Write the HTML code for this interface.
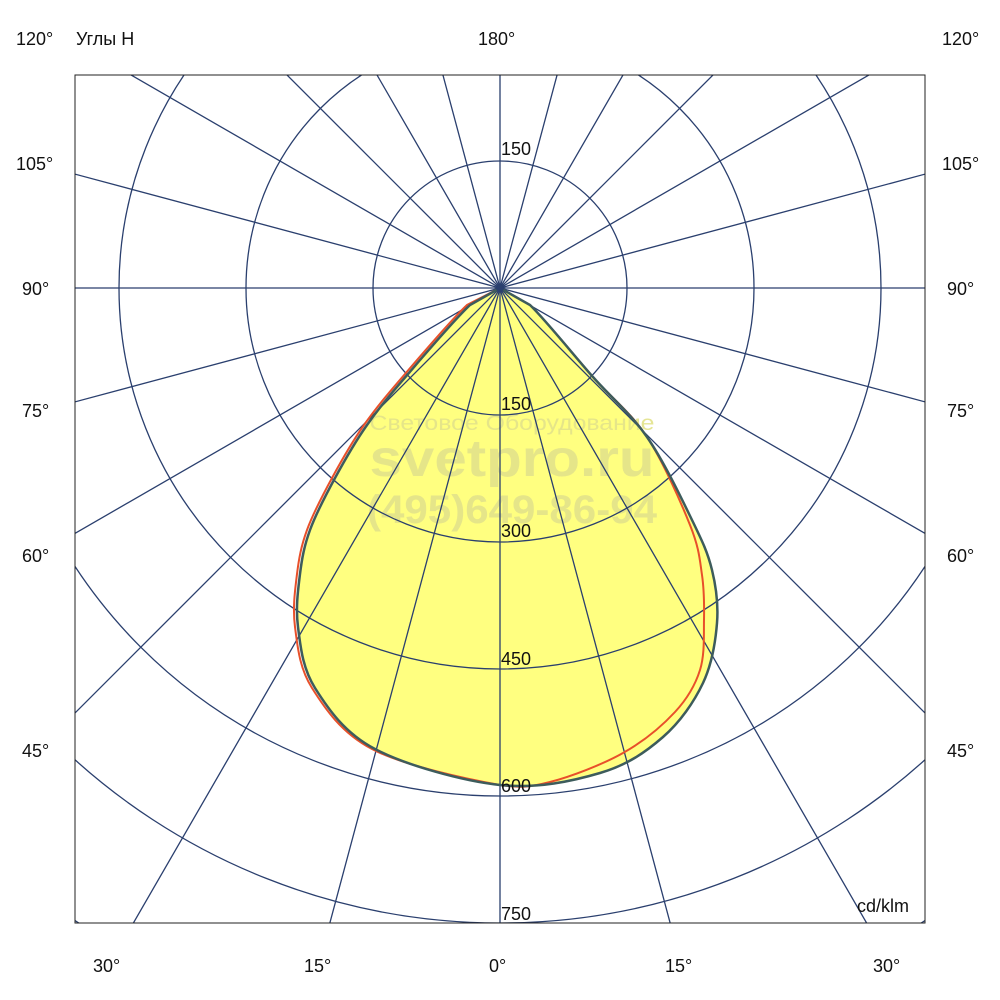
<!DOCTYPE html>
<html><head><meta charset="utf-8"><style>
html,body{margin:0;padding:0;background:#fff;overflow:hidden;width:1000px;height:1000px;}
svg{display:block;}
text{font-family:"Liberation Sans","Noto Sans CJK SC",sans-serif;}
</style></head><body>
<svg width="1000" height="1000" viewBox="0 0 1000 1000" xmlns="http://www.w3.org/2000/svg">
<defs><clipPath id="c"><rect x="75" y="75" width="850" height="848"/></clipPath></defs>
<rect width="1000" height="1000" fill="#fff"/>
<g clip-path="url(#c)">
<path d="M500,288 L470,305 C454.7,319.3 425.2,354 408,374 C390.8,394 379.2,407.7 367,425 C354.8,442.3 344.5,460.5 335,478 C325.5,495.5 315.8,514 310,530 C304.2,546 302,557.8 300,574 C298,590.2 295.5,608 298,627 C300.5,646 302.2,667.7 315,688 C327.8,708.3 344.2,732.8 375,749 C405.8,765.2 462.5,781 500,785 C537.5,789 572.8,781 600,773 C627.2,765 645.8,752 663,737 C680.2,722 694,702 703,683 C712,664 715.5,641.8 717,623 C718.5,604.2 716.2,587.2 712,570 C707.8,552.8 702.8,542.2 692,520 C681.2,497.8 663.5,460.8 647,437 C630.5,413.2 612.5,399 593,377 C573.5,355 545.5,319.8 530,305 L500,288 Z" fill="#ffff80"/>
<g fill="#e3e38a" font-weight="bold" text-anchor="middle" opacity="0.9">
<text x="512" y="430" font-size="21" font-weight="normal" textLength="285" lengthAdjust="spacingAndGlyphs">Световое Оборудование</text>
<text x="512" y="476" font-size="52" textLength="285" lengthAdjust="spacingAndGlyphs">svetpro.ru</text>
<text x="512" y="523" font-size="40" textLength="290" lengthAdjust="spacingAndGlyphs">(495)649-86-94</text>
</g>
<g stroke="#2a3f6e" stroke-width="1.3" fill="none">
<circle cx="500" cy="288" r="127"/>
<circle cx="500" cy="288" r="254"/>
<circle cx="500" cy="288" r="381"/>
<circle cx="500" cy="288" r="508"/>
<circle cx="500" cy="288" r="635"/>
<circle cx="500" cy="288" r="762"/>
<line x1="500" y1="-1000" x2="500" y2="1600" transform="rotate(0 500 288)"/>
<line x1="500" y1="-1000" x2="500" y2="1600" transform="rotate(15 500 288)"/>
<line x1="500" y1="-1000" x2="500" y2="1600" transform="rotate(30 500 288)"/>
<line x1="500" y1="-1000" x2="500" y2="1600" transform="rotate(45 500 288)"/>
<line x1="500" y1="-1000" x2="500" y2="1600" transform="rotate(60 500 288)"/>
<line x1="500" y1="-1000" x2="500" y2="1600" transform="rotate(75 500 288)"/>
<line x1="500" y1="-1000" x2="500" y2="1600" transform="rotate(90 500 288)"/>
<line x1="500" y1="-1000" x2="500" y2="1600" transform="rotate(105 500 288)"/>
<line x1="500" y1="-1000" x2="500" y2="1600" transform="rotate(120 500 288)"/>
<line x1="500" y1="-1000" x2="500" y2="1600" transform="rotate(135 500 288)"/>
<line x1="500" y1="-1000" x2="500" y2="1600" transform="rotate(150 500 288)"/>
<line x1="500" y1="-1000" x2="500" y2="1600" transform="rotate(165 500 288)"/>
</g>
<path d="M500,288 L467,305 C451.7,319.3 422.2,354 405,374 C387.8,394 376.2,407.7 364,425 C351.8,442.3 341.5,460.5 332,478 C322.5,495.5 312.8,514 307,530 C301.2,546 299,557.8 297,574 C295,590.2 292.5,608 295,627 C297.5,646 299.2,667.7 312,688 C324.8,708.3 341.2,732.8 372,749 C403.5,765.8 470.3,779.7 500,785 C520,788 529.5,787.3 550,782 C570.5,776.7 602.2,764.7 623,753 C643.8,741.3 662.2,725.8 675,712 C687.8,698.2 695.2,685.3 700,670 C704.8,654.7 703.7,635.8 704,620 C704.3,604.2 704.3,590.8 702,575 C699.7,559.2 699.2,548 690,525 C680.8,502 663.2,461.7 647,437 C630.8,412.3 612.5,399 593,377 C573.5,355 545.5,319.8 530,305 L500,288" fill="none" stroke="#e8502a" stroke-width="2"/>
<path d="M500,288 L470,305 C454.7,319.3 425.2,354 408,374 C390.8,394 379.2,407.7 367,425 C354.8,442.3 344.5,460.5 335,478 C325.5,495.5 315.8,514 310,530 C304.2,546 302,557.8 300,574 C298,590.2 295.5,608 298,627 C300.5,646 302.2,667.7 315,688 C327.8,708.3 344.2,732.8 375,749 C405.8,765.2 462.5,781 500,785 C537.5,789 572.8,781 600,773 C627.2,765 645.8,752 663,737 C680.2,722 694,702 703,683 C712,664 715.5,641.8 717,623 C718.5,604.2 716.2,587.2 712,570 C707.8,552.8 702.8,542.2 692,520 C681.2,497.8 663.5,460.8 647,437 C630.5,413.2 612.5,399 593,377 C573.5,355 545.5,319.8 530,305 L500,288 Z" fill="none" stroke="#3d5c5c" stroke-width="2.5"/>
<circle cx="500" cy="288" r="4" fill="#2a3f6e"/>
</g>
<rect x="75" y="75" width="850" height="848" fill="none" stroke="#222" stroke-width="1"/>
<g font-size="18" fill="#111">
<text x="501" y="155">150</text>
<text x="501" y="410">150</text>
<text x="501" y="537">300</text>
<text x="501" y="665">450</text>
<text x="501" y="792">600</text>
<text x="501" y="920">750</text>
<text x="857" y="912">cd/klm</text>
<text x="16" y="45">120°</text>
<text x="76" y="45">Углы H</text>
<text x="478" y="45">180°</text>
<text x="942" y="45">120°</text>
<text x="16" y="170">105°</text>
<text x="942" y="170">105°</text>
<text x="22" y="295">90°</text>
<text x="947" y="295">90°</text>
<text x="22" y="417">75°</text>
<text x="947" y="417">75°</text>
<text x="22" y="562">60°</text>
<text x="947" y="562">60°</text>
<text x="22" y="757">45°</text>
<text x="947" y="757">45°</text>
<text x="93" y="972">30°</text>
<text x="304" y="972">15°</text>
<text x="489" y="972">0°</text>
<text x="665" y="972">15°</text>
<text x="873" y="972">30°</text>
</g>
</svg>
</body></html>
